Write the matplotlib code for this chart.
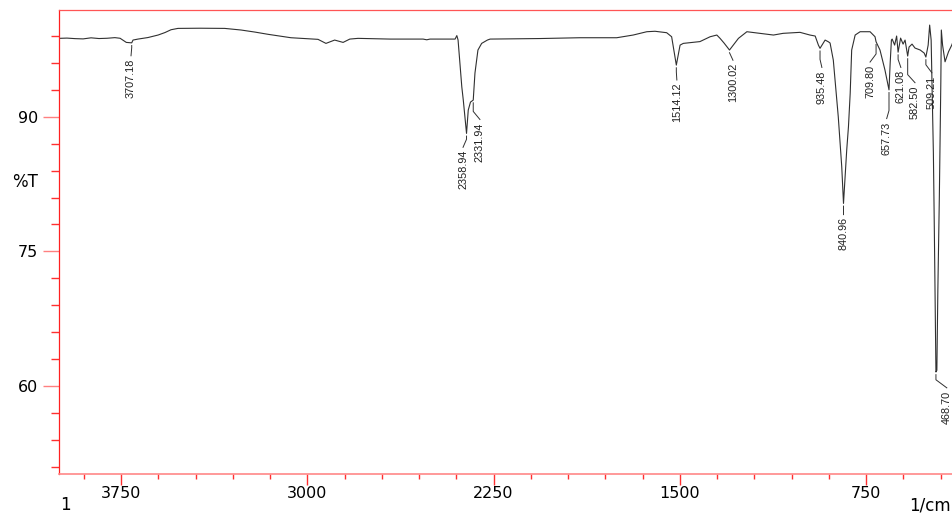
import numpy as np
import matplotlib
matplotlib.use("Agg")
import matplotlib.pyplot as plt
from matplotlib.ticker import MultipleLocator

# spectrum (wavenumber in 1/cm, %T)
wavenumber = [
    4000, 3968, 3935, 3903, 3871, 3839, 3807, 3775, 3754, 3729,
    3707.18, 3702, 3682, 3642, 3601, 3573, 3549, 3521, 3432, 3333,
    3267, 3211, 3158, 3066, 2957, 2925, 2890, 2856, 2829, 2796,
    2667, 2534, 2519, 2506, 2405, 2398, 2393, 2378, 2372, 2358.94,
    2352, 2343, 2331.94, 2325, 2313, 2298, 2275, 2264, 2063, 1902,
    1754, 1688, 1633, 1600, 1553, 1533, 1514.12, 1499, 1486, 1419,
    1378, 1351, 1338, 1322, 1300.02, 1282, 1264, 1230, 1177, 1123,
    1084, 1016, 976, 955, 942, 935.48, 915, 902, 895, 882,
    862, 848, 840.96, 828, 821, 814, 808, 794, 774, 734,
    714, 709.80, 694, 674, 657.73, 653, 648, 645, 635, 627,
    621.08, 611, 601, 593, 582.50, 577, 565, 553, 532, 516,
    509.21, 500, 494, 488, 483, 479, 475, 471, 468.70, 465,
    461, 455, 451, 449, 447, 442, 432, 418, 405, 400,
]
transmittance = [
    98.74, 98.77, 98.71, 98.68, 98.80, 98.72, 98.75, 98.82, 98.75, 98.29,
    98.24, 98.55, 98.66, 98.83, 99.11, 99.39, 99.70, 99.85, 99.87, 99.85,
    99.67, 99.44, 99.19, 98.81, 98.63, 98.18, 98.55, 98.29, 98.66, 98.74,
    98.66, 98.66, 98.58, 98.66, 98.66, 99.05, 98.55, 93.34, 91.86, 88.15,
    90.75, 91.64, 91.86, 94.87, 97.44, 98.18, 98.55, 98.66, 98.72, 98.81,
    98.81, 99.11, 99.48, 99.53, 99.37, 98.92, 95.76, 97.99, 98.18, 98.38,
    98.92, 99.11, 98.74, 98.22, 97.44, 98.10, 98.74, 99.48, 99.30, 99.11,
    99.30, 99.41, 99.11, 99.00, 97.99, 97.63, 98.55, 98.36, 98.22, 96.32,
    90.00, 84.43, 80.35, 86.29, 88.89, 92.61, 97.44, 99.11, 99.48, 99.48,
    98.92, 98.36, 97.44, 95.21, 93.00, 95.99, 98.55, 98.66, 97.99, 99.00,
    97.20, 98.77, 98.10, 98.55, 96.77, 97.77, 98.10, 97.66, 97.44, 97.10,
    96.66, 97.99, 100.22, 98.55, 91.30, 85.95, 77.03, 67.00, 61.57, 61.76,
    70.68, 81.08, 89.30, 93.90, 99.67, 97.99, 96.13, 97.25, 97.99, 98.36,
]

peak_labels = ["3707.18", "2358.94", "2331.94", "1514.12", "1300.02", "935.48",
               "840.96", "709.80", "657.73", "621.08", "582.50", "509.21", "468.70"]

# where each label text sits (center wavenumber, top in %T)
label_x = [3710, 2373, 2305, 1512, 1286, 928, 841, 734, 667, 610, 553, 485, 425]
label_top = [96.5, 86.3, 89.4, 93.8, 96.0, 95.2, 78.8, 95.8, 89.5, 95.2, 93.5, 94.6, 59.5]

wn = np.array(wavenumber)
tr = np.array(transmittance)

fig = plt.figure(figsize=(9.53, 5.14), dpi=100)
ax = fig.add_axes([59 / 953, 1 - 474 / 514, 1 - 59 / 953, (474 - 10) / 514])

ax.plot(wn, tr, color="#303030", lw=0.8)

ax.set_xlim(4000, 400)
ax.set_ylim(50.2, 101.9)

# peak labels with leader lines
for s, lx, lt in zip(peak_labels, label_x, label_top):
    p = float(s)
    tp = np.interp(p, wn[::-1], tr[::-1])
    y0 = tp - 0.3
    y1 = max(min(lt + 1.2, y0), lt + 0.3)
    ax.plot([p, p, lx], [y0, y1, lt + 0.3], color="#303030", lw=0.7)
    ax.text(lx, lt, s, rotation=90, ha="center", va="top", fontsize=7.8,
            family="Liberation Sans", color="#202020")

ax.xaxis.set_major_locator(MultipleLocator(750))
ax.xaxis.set_minor_locator(MultipleLocator(150))
ax.yaxis.set_major_locator(MultipleLocator(15))
ax.yaxis.set_minor_locator(MultipleLocator(3))

ax.tick_params(axis="x", which="major", length=8, width=1, color="#ff3030",
               pad=1, labelsize=11.5)
ax.tick_params(axis="x", which="minor", length=3.6, width=1, color="#ff3030")
ax.tick_params(axis="y", which="major", length=11.5, width=1, color="#ff8080",
               pad=3.6, labelsize=11.5)
ax.tick_params(axis="y", which="minor", length=5.8, width=1, color="#ff3030")

ax.spines["left"].set_color("#ff2020")
ax.spines["left"].set_linewidth(0.9)
ax.spines["top"].set_color("#ff5555")
ax.spines["top"].set_linewidth(0.9)
ax.spines["bottom"].set_color("#ff8888")
ax.spines["bottom"].set_linewidth(1.2)
ax.spines["right"].set_visible(False)

fig.text(25 / 953, 1 - 182 / 514, "%T", ha="center", va="center", fontsize=12)
fig.text(60 / 953, 1 - 505 / 514, "1", ha="left", va="center", fontsize=12)
fig.text(951 / 953, 1 - 505 / 514, "1/cm", ha="right", va="center", fontsize=12)

fig.savefig("out.png", dpi=100)
